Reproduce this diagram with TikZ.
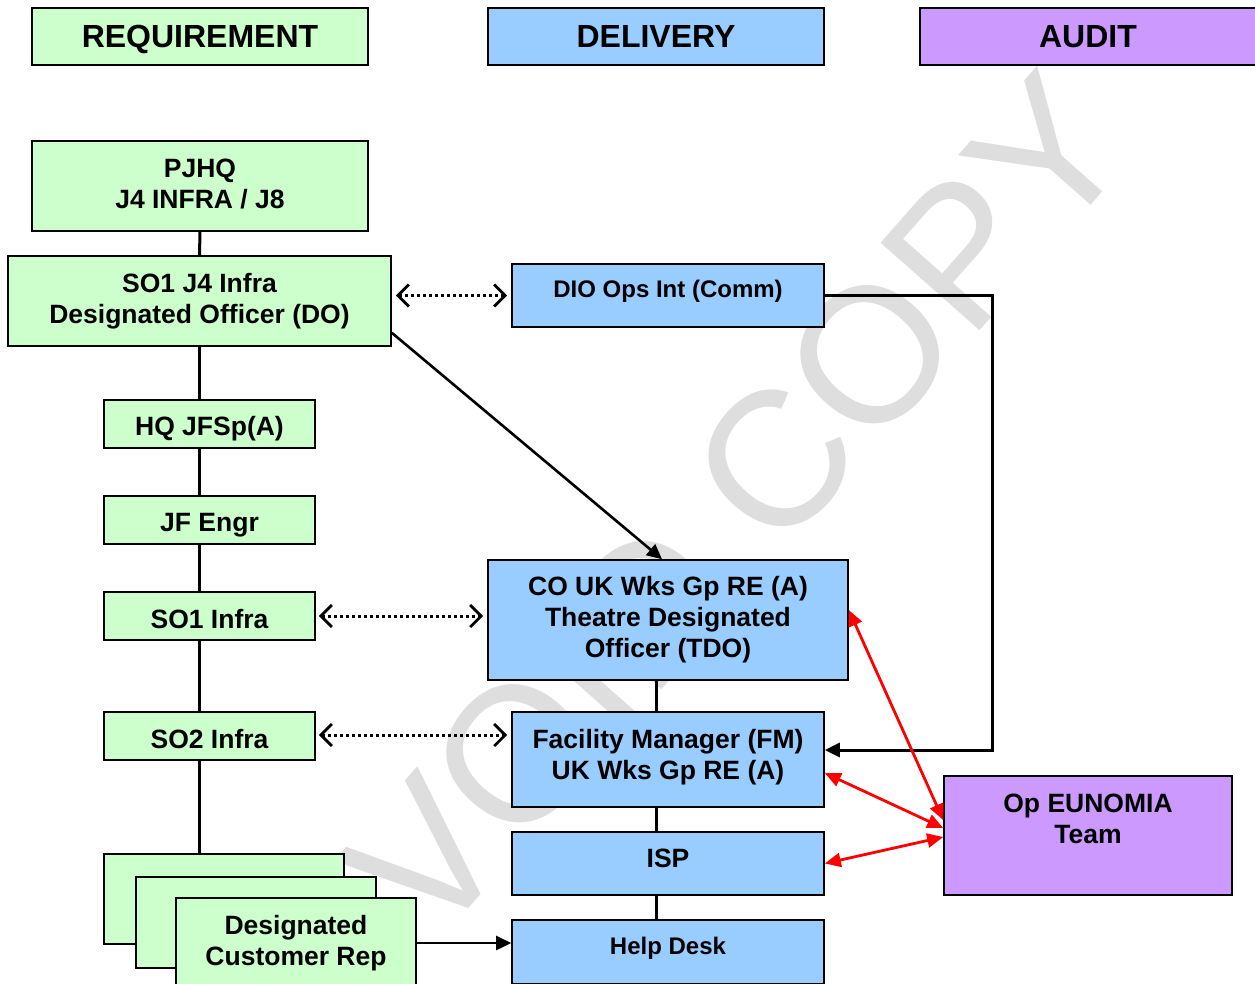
\documentclass[tikz,border=0pt]{standalone}
\usepackage{fontspec}
\setmainfont{Liberation Sans}
\usetikzlibrary{arrows.meta}
\definecolor{reqg}{HTML}{CCFFCC}
\definecolor{delb}{HTML}{99CCFF}
\definecolor{audp}{HTML}{CC99FF}
\definecolor{wmgray}{HTML}{DEDEDE}
\definecolor{redln}{HTML}{FF0000}
\newcommand\mybody{\bfseries\fontsize{26.5}{31}\selectfont}
\newcommand\myhdr{\bfseries\fontsize{32}{36}\selectfont}
\newcommand\mysmall{\bfseries\fontsize{24}{28}\selectfont}
\tikzset{
  bx/.style={draw=black, line width=1.6pt, inner sep=0pt, align=center, font=\mybody},
  onel/.style={text depth=0pt},
  hdr/.style={bx, onel, font=\myhdr},
  rq/.style={fill=reqg},
  dl/.style={fill=delb},
  au/.style={fill=audp},
  txt/.style={inner sep=0pt, align=center, font=\mybody},
  link/.style={line width=3pt},
  dots/.style={line width=3pt, dash pattern=on 3pt off 3pt,
     {Straight Barb[length=11pt,width=22pt,line width=2.8pt]}-{Straight Barb[length=11pt,width=22pt,line width=2.8pt]}},
  solidarrow/.style={line width=2.6pt, -{Triangle[length=15pt,width=14pt]}},
  redarrow/.style={draw=redln, line width=2.8pt,
     {Triangle[length=16pt,width=14pt]}-{Triangle[length=16pt,width=14pt]}},
  wm/.style={inner sep=0pt, text=wmgray, font=\fontsize{192}{192}\selectfont}
}
\begin{document}
\begin{tikzpicture}[x=1pt,y=-1pt]
\useasboundingbox (0,0) rectangle (1255,984);
\fill[white] (0,0) rectangle (1255,984);
% watermark
\node[wm, rotate=48.5] (wmark) at (736,506) {VOID COPY};

% headers
\node[hdr, rq, minimum width=336pt, minimum height=57pt] (req) at (200,36.5) {REQUIREMENT};
\node[hdr, dl, minimum width=336pt, minimum height=57pt] (del) at (656,36.5) {DELIVERY};
\node[hdr, au, minimum width=336pt, minimum height=57pt] (aud) at (1088,36.5) {AUDIT};

% requirement column
\node[bx, rq, minimum width=336pt, minimum height=90pt] (pjhq) at (200,186) {};
\node[txt] (pjhqT) at (200,184) {PJHQ\\J4 INFRA / J8};
\node[bx, rq, minimum width=383pt, minimum height=90pt] (so1j4) at (199.5,301) {SO1 J4 Infra\\Designated Officer (DO)};
\node[bx, rq, onel, minimum width=211pt, minimum height=48pt] (hq) at (209.5,424) {};
\node[txt, onel] (hqT) at (209.5,426) {HQ JFSp(A)};
\node[bx, rq, onel, minimum width=211pt, minimum height=48pt] (jf) at (209.5,520) {};
\node[txt, onel] (jfT) at (209.5,522) {JF Engr};
\node[bx, rq, onel, minimum width=211pt, minimum height=48pt] (so1inf) at (209.5,616) {};
\node[txt, onel] (so1infT) at (209.5,618.5) {SO1 Infra};
\node[bx, rq, onel, minimum width=211pt, minimum height=48pt] (so2) at (209.5,736) {};
\node[txt, onel] (so2T) at (209.5,738.5) {SO2 Infra};
\node[bx, rq, minimum width=240pt, minimum height=90pt] (dcr1) at (224,899) {};
\node[bx, rq, minimum width=240pt, minimum height=91pt] (dcr2) at (256,922.5) {};
\node[bx, rq, minimum width=240pt, minimum height=90pt] (dcr3) at (296,943) {Designated\\Customer Rep};

% delivery column
\node[bx, dl, minimum width=312pt, minimum height=63pt] (dio) at (668,295.5) {};
\node[txt, onel, font=\mysmall] (dioT) at (668,289) {DIO Ops Int (Comm)};
\node[bx, dl, minimum width=360pt, minimum height=120pt] (couk) at (668,620) {CO UK Wks Gp RE (A)\\Theatre Designated\\Officer (TDO)};
\node[bx, dl, minimum width=312pt, minimum height=95pt] (fm) at (668,759.5) {};
\node[txt] (fmT) at (668,757.5) {Facility Manager (FM)\\UK Wks Gp RE (A)};
\node[bx, dl, minimum width=312pt, minimum height=63pt] (isp) at (668,863.5) {};
\node[txt, onel] (ispT) at (668,858) {ISP};
\node[bx, dl, minimum width=312pt, minimum height=64pt] (hd) at (668,952) {};
\node[txt, onel, font=\mysmall] (hdT) at (668,946) {Help Desk};

% audit
\node[bx, au, minimum width=288pt, minimum height=119pt] (eun) at (1088,835.5) {};
\node[txt] (eunT) at (1088,818.5) {Op EUNOMIA\\Team};

% left column spine
\draw[link] (pjhq.south) -- (so1j4.north);
\draw[link] (so1j4.south) -- (so1j4.south |- hq.north);
\draw[link] (so1j4.south |- hq.south) -- (so1j4.south |- jf.north);
\draw[link] (so1j4.south |- jf.south) -- (so1j4.south |- so1inf.north);
\draw[link] (so1j4.south |- so1inf.south) -- (so1j4.south |- so2.north);
\draw[link] (so1j4.south |- so2.south) -- (so1j4.south |- dcr1.north);

% middle column spine
\coordinate (mx) at (656,0);
\draw[link] (mx |- couk.south) -- (mx |- fm.north);
\draw[link] (mx |- fm.south) -- (mx |- isp.north);
\draw[link] (mx |- isp.south) -- (mx |- hd.north);

% dotted links
\draw[dots, shorten <=4pt, shorten >=4pt] (so1j4.east |- dio.west) -- (dio.west);
\draw[dots, shorten <=3pt, shorten >=4pt] (so1inf.east) -- (so1inf.east -| couk.west);
\draw[dots, shorten <=3pt, shorten >=4pt] ([yshift=1pt]so2.east) -- ([yshift=1pt]so2.east -| fm.west);

% solid arrows
\draw[solidarrow] ([yshift=14pt]so1j4.south east) -- ([xshift=-6pt]couk.north);
\draw[link, -{Triangle[length=15pt,width=14pt]}] (dio.east) -- ++(168,0) |- ([yshift=9.5pt]fm.east);
\draw[solidarrow] (dcr3.east) -- (dcr3.east -| hd.west);

% red arrows
\draw[redarrow] ([yshift=10pt]couk.east) -- ([yshift=15.5pt]eun.west);
\draw[redarrow] ([yshift=-13.5pt]fm.east) -- ([yshift=7.5pt]eun.west);
\draw[redarrow] (isp.east) -- ([yshift=-1.5pt]eun.west);
\end{tikzpicture}
\end{document}
